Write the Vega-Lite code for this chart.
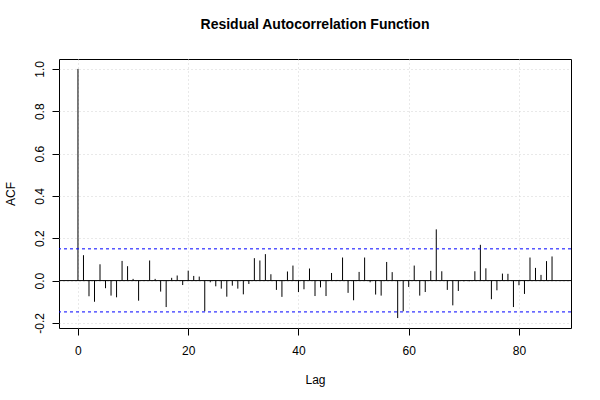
{
  "$schema": "https://vega.github.io/schema/vega-lite/v6.json",
  "width": 512,
  "height": 269,
  "autosize": {"type": "none"},
  "padding": {"left": 59, "top": 59, "right": 29, "bottom": 72},
  "background": "white",
  "config": {
    "view": {"stroke": "black", "strokeWidth": 1},
    "font": "Liberation Sans",
    "axis": {
      "domain": false,
      "tickColor": "black",
      "tickSize": 7,
      "labelFont": "Liberation Sans",
      "labelFontSize": 12,
      "labelColor": "black",
      "titleFont": "Liberation Sans",
      "titleFontSize": 12,
      "titleFontWeight": "normal",
      "titleColor": "black",
      "grid": true,
      "gridColor": "#d3d3d3",
      "gridDash": [1, 3],
      "gridWidth": 1
    }
  },
  "title": {
    "text": "Residual Autocorrelation Function",
    "font": "Liberation Sans",
    "fontSize": 14,
    "fontWeight": "bold",
    "color": "black",
    "anchor": "middle",
    "offset": 27
  },
  "datasets": {
    "acf": [
      {"lag": 0, "acf": 1.0},
      {"lag": 1, "acf": 0.120},
      {"lag": 2, "acf": -0.074},
      {"lag": 3, "acf": -0.100},
      {"lag": 4, "acf": 0.077},
      {"lag": 5, "acf": -0.036},
      {"lag": 6, "acf": -0.071},
      {"lag": 7, "acf": -0.079},
      {"lag": 8, "acf": 0.093},
      {"lag": 9, "acf": 0.068},
      {"lag": 10, "acf": 0.008},
      {"lag": 11, "acf": -0.095},
      {"lag": 12, "acf": 0.002},
      {"lag": 13, "acf": 0.095},
      {"lag": 14, "acf": 0.008},
      {"lag": 15, "acf": -0.052},
      {"lag": 16, "acf": -0.125},
      {"lag": 17, "acf": 0.013},
      {"lag": 18, "acf": 0.024},
      {"lag": 19, "acf": -0.021},
      {"lag": 20, "acf": 0.047},
      {"lag": 21, "acf": 0.022},
      {"lag": 22, "acf": 0.019},
      {"lag": 23, "acf": -0.145},
      {"lag": 24, "acf": -0.008},
      {"lag": 25, "acf": -0.027},
      {"lag": 26, "acf": -0.038},
      {"lag": 27, "acf": -0.076},
      {"lag": 28, "acf": -0.024},
      {"lag": 29, "acf": -0.038},
      {"lag": 30, "acf": -0.065},
      {"lag": 31, "acf": -0.016},
      {"lag": 32, "acf": 0.106},
      {"lag": 33, "acf": 0.095},
      {"lag": 34, "acf": 0.125},
      {"lag": 35, "acf": 0.030},
      {"lag": 36, "acf": -0.044},
      {"lag": 37, "acf": -0.077},
      {"lag": 38, "acf": 0.043},
      {"lag": 39, "acf": 0.071},
      {"lag": 40, "acf": -0.054},
      {"lag": 41, "acf": -0.041},
      {"lag": 42, "acf": 0.057},
      {"lag": 43, "acf": -0.073},
      {"lag": 44, "acf": -0.032},
      {"lag": 45, "acf": -0.073},
      {"lag": 46, "acf": 0.036},
      {"lag": 47, "acf": 0.003},
      {"lag": 48, "acf": 0.109},
      {"lag": 49, "acf": -0.058},
      {"lag": 50, "acf": -0.093},
      {"lag": 51, "acf": 0.041},
      {"lag": 52, "acf": 0.109},
      {"lag": 53, "acf": -0.008},
      {"lag": 54, "acf": -0.066},
      {"lag": 55, "acf": -0.071},
      {"lag": 56, "acf": 0.088},
      {"lag": 57, "acf": 0.040},
      {"lag": 58, "acf": -0.177},
      {"lag": 59, "acf": -0.145},
      {"lag": 60, "acf": -0.030},
      {"lag": 61, "acf": 0.071},
      {"lag": 62, "acf": -0.071},
      {"lag": 63, "acf": -0.054},
      {"lag": 64, "acf": 0.046},
      {"lag": 65, "acf": 0.242},
      {"lag": 66, "acf": 0.044},
      {"lag": 67, "acf": -0.044},
      {"lag": 68, "acf": -0.117},
      {"lag": 69, "acf": -0.049},
      {"lag": 70, "acf": -0.003},
      {"lag": 71, "acf": -0.003},
      {"lag": 72, "acf": 0.044},
      {"lag": 73, "acf": 0.169},
      {"lag": 74, "acf": 0.058},
      {"lag": 75, "acf": -0.088},
      {"lag": 76, "acf": -0.046},
      {"lag": 77, "acf": 0.033},
      {"lag": 78, "acf": 0.032},
      {"lag": 79, "acf": -0.125},
      {"lag": 80, "acf": -0.022},
      {"lag": 81, "acf": -0.063},
      {"lag": 82, "acf": 0.109},
      {"lag": 83, "acf": 0.060},
      {"lag": 84, "acf": 0.027},
      {"lag": 85, "acf": 0.092},
      {"lag": 86, "acf": 0.114}
    ],
    "ci": [
      {"bound": 0.15},
      {"bound": -0.148}
    ]
  },
  "layer": [
    {
      "data": {"name": "acf"},
      "mark": {"type": "rule", "color": "black", "strokeWidth": 1},
      "encoding": {
        "x": {
          "field": "lag",
          "type": "quantitative",
          "scale": {"domain": [-3.44, 89.44], "nice": false, "zero": false},
          "axis": {
            "values": [0, 20, 40, 60, 80],
            "title": "Lag",
            "labelPadding": 10,
            "titlePadding": 18,
            "format": "d"
          }
        },
        "y": {
          "field": "acf",
          "type": "quantitative",
          "scale": {"domain": [-0.224, 1.047], "nice": false, "zero": false},
          "axis": {
            "values": [-0.2, 0, 0.2, 0.4, 0.6, 0.8, 1.0],
            "title": "ACF",
            "labelAngle": -90,
            "labelAlign": "center",
            "labelBaseline": "bottom",
            "labelPadding": 6,
            "labelExpr": "replace(format(datum.value, '.1f'), '−', '-')",
            "titlePadding": 16
          }
        },
        "y2": {"datum": 0}
      }
    },
    {
      "data": {"values": [{"z": 0}]},
      "mark": {"type": "rule", "color": "black", "strokeWidth": 1},
      "encoding": {"y": {"field": "z", "type": "quantitative"}}
    },
    {
      "data": {"name": "ci"},
      "mark": {"type": "rule", "color": "blue", "strokeWidth": 1, "strokeDash": [3, 3]},
      "encoding": {"y": {"field": "bound", "type": "quantitative"}}
    }
  ]
}
